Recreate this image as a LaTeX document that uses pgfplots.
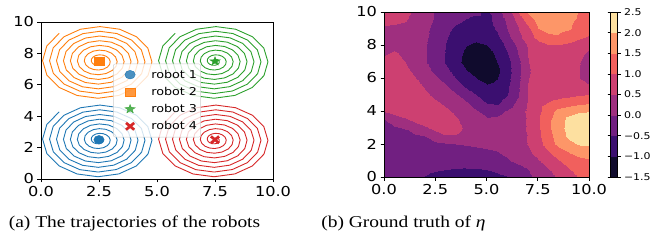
\documentclass[border=0pt]{standalone}
\usepackage{pgfplots}
\pgfplotsset{compat=1.18}
\usepackage{pgfplotstable}
\usepackage{fontspec}
\setmainfont{Liberation Serif}[FakeStretch=1.18]
\newfontfamily\dvs{DejaVu Sans}[FakeStretch=1.18]
\newcommand\tfont{\dvs\fontsize{13.7bp}{15bp}\selectfont}
\newcommand\lfont{\dvs\fontsize{10.8bp}{12bp}\selectfont}
\newcommand\cfont{\dvs\fontsize{9.3bp}{11bp}\selectfont}
\newcommand\capfont{\fontsize{16.5bp}{18bp}\selectfont}
\definecolor{tabblue}{RGB}{31,119,180}
\definecolor{taborange}{RGB}{255,127,14}
\definecolor{tabgreen}{RGB}{44,160,44}
\definecolor{tabred}{RGB}{214,39,40}
\pgfdeclareplotmark{fstar}{%
  \pgfpathmoveto{\pgfpointpolar{90}{\pgfplotmarksize}}%
  \pgfpathlineto{\pgfpointpolar{126}{0.4\pgfplotmarksize}}%
  \pgfpathlineto{\pgfpointpolar{162}{\pgfplotmarksize}}%
  \pgfpathlineto{\pgfpointpolar{198}{0.4\pgfplotmarksize}}%
  \pgfpathlineto{\pgfpointpolar{234}{\pgfplotmarksize}}%
  \pgfpathlineto{\pgfpointpolar{270}{0.4\pgfplotmarksize}}%
  \pgfpathlineto{\pgfpointpolar{306}{\pgfplotmarksize}}%
  \pgfpathlineto{\pgfpointpolar{342}{0.4\pgfplotmarksize}}%
  \pgfpathlineto{\pgfpointpolar{18}{\pgfplotmarksize}}%
  \pgfpathlineto{\pgfpointpolar{54}{0.4\pgfplotmarksize}}%
  \pgfpathclose\pgfusepathqfillstroke}
\pgfplotstableread{
x y
-1.716 1.777
-2.248 0.977
-2.432 0.043
-2.246 -0.885
-1.723 -1.664
-0.947 -2.179
-0.041 -2.357
0.857 -2.176
1.612 -1.669
2.110 -0.917
2.282 -0.040
2.106 0.830
1.615 1.560
0.888 2.041
0.039 2.208
-0.802 2.037
-1.508 1.561
-1.973 0.858
-2.132 0.037
-1.967 -0.775
-1.507 -1.455
-0.828 -1.904
-0.036 -2.057
0.747 -1.897
1.403 -1.453
1.835 -0.798
1.982 -0.035
1.827 0.720
1.399 1.351
0.768 1.766
0.033 1.908
-0.692 1.758
-1.299 1.345
-1.698 0.738
-1.832 0.032
-1.688 -0.665
-1.291 -1.247
-0.708 -1.629
-0.031 -1.757
0.637 -1.618
1.195 -1.237
1.560 -0.678
1.682 -0.029
1.548 0.610
1.183 1.143
0.648 1.491
0.028 1.608
-0.582 1.478
-1.091 1.129
-1.422 0.618
-1.533 0.027
-1.409 -0.555
-1.075 -1.039
-0.588 -1.354
-0.026 -1.457
0.527 -1.339
0.986 -1.021
1.285 -0.559
1.382 -0.024
1.269 0.500
0.967 0.934
0.529 1.216
0.023 1.308
-0.472 1.199
-0.882 0.914
-1.147 0.499
-1.233 0.022
-1.129 -0.445
-0.860 -0.830
-0.469 -1.079
-0.020 -1.157
0.417 -1.060
0.778 -0.806
1.010 -0.439
1.083 -0.019
0.990 0.390
0.752 0.726
0.409 0.941
0.018 1.008
-0.362 0.920
-0.674 0.698
-0.872 0.379
-0.933 0.016
-0.850 -0.335
-0.644 -0.622
-0.349 -0.804
-0.015 -0.857
0.307 -0.781
0.570 -0.590
0.735 -0.319
0.783 -0.014
0.711 0.280
0.536 0.518
0.289 0.666
0.012 0.708
-0.253 0.641
-0.465 0.482
-0.597 0.260
-0.633 0.011
-0.571 -0.225
-0.428 -0.413
-0.230 -0.528
-0.010 -0.558
0.198 -0.501
0.361 -0.374
0.459 -0.200
0.483 -0.008
0.432 0.170
0.320 0.309
0.170 0.391
0.007 0.408
-0.143 0.362
-0.257 0.266
-0.322 0.140
-0.333 0.006
-0.292 -0.115
-0.212 -0.205
-0.110 -0.253
-0.005 -0.258
0.088 -0.222
0.153 -0.158
0.184 -0.080
0.183 -0.003
0.153 0.060
0.104 0.101
0.050 0.116
0.002 0.108
-0.033 0.083
-0.049 0.050
}\spiral
\pgfplotsset{myax/.style={scale only axis, anchor=south west,
  xmin=0, xmax=10, ymin=0, ymax=10,
  tick align=outside, tick pos=left, major tick length=3.5bp,
  tick style={black, line width=0.6bp}, axis line style={line width=0.6bp},
  ticklabel style={font=\tfont},
  xtick={0,2.5,5,7.5,10}, xticklabels={0.0,2.5,5.0,7.5,10.0},
  ytick={0,2,4,6,8,10}, yticklabels={0,2,4,6,8,10}}}
\begin{document}
\begin{tikzpicture}
\path[use as bounding box] (0,0) rectangle (656bp,251bp);
\begin{axis}[myax, at={(41bp,72bp)}, width=232bp, height=157bp,
  legend style={at={(0.5,0.5)}, anchor=center, draw=black!20, fill=white,
    fill opacity=0.8, text opacity=1, draw opacity=1, rounded corners=2bp,
    font=\lfont, inner xsep=2bp, inner ysep=4.5bp, row sep=4.5bp,
    nodes={inner sep=1.5bp}},
  legend cell align=left,
  legend image code/.code={\path (0bp,0bp) (34bp,0bp); \draw[#1] plot coordinates {(14.5bp,0bp)};}]
\addplot[tabblue, line width=0.9bp, forget plot] table[x expr=\thisrow{x}+2.5, y expr=\thisrow{y}+2.5] {\spiral};
\addplot[taborange, line width=0.9bp, forget plot] table[x expr=\thisrow{x}+2.5, y expr=\thisrow{y}+7.5] {\spiral};
\addplot[tabgreen, line width=0.9bp, forget plot] table[x expr=\thisrow{x}+7.5, y expr=\thisrow{y}+7.5] {\spiral};
\addplot[tabred, line width=0.9bp, forget plot] table[x expr=\thisrow{x}+7.5, y expr=\thisrow{y}+2.5] {\spiral};
\addplot[only marks, mark=*, mark size=4.3bp, mark options={xscale=1.2, draw=tabblue, fill=tabblue}] coordinates {(2.5,2.5)};
\addlegendentry{robot 1}
\addplot[only marks, mark=square*, mark size=4.1bp, mark options={xscale=1.2, draw=taborange, fill=taborange}] coordinates {(2.5,7.5)};
\addlegendentry{robot 2}
\addplot[only marks, mark=fstar, mark size=4.6bp, mark options={xscale=1.2, draw=tabgreen, fill=tabgreen, line width=0.3bp}] coordinates {(7.5,7.5)};
\addlegendentry{robot 3}
\addplot[only marks, mark=x, mark size=4.8bp, mark options={xscale=1.2, draw=tabred, line width=2.7bp}] coordinates {(7.5,2.5)};
\addlegendentry{robot 4}
\end{axis}
\begin{axis}[myax, at={(384bp,74bp)}, width=205bp, height=165bp, view={0}{90},
  colormap={eta}{rgb255=(16,11,45) rgb255=(59,15,112) rgb255=(113,31,129) rgb255=(159,47,127) rgb255=(205,64,113) rgb255=(241,96,93) rgb255=(253,150,104) rgb255=(253,224,160)},
  colormap access=piecewise constant,
  point meta min=-1.5, point meta max=2.5,
  colorbar,
  colorbar style={at={(parent axis.north east)}, anchor=north west, xshift=13bp,
    scale only axis, width=7bp, height=165bp,
    ytick={-1.5,-1,-0.5,0,0.5,1,1.5,2,2.5},
    yticklabels={−1.5,−1.0,−0.5,0.0,0.5,1.0,1.5,2.0,2.5},
    yticklabel style={font=\cfont},
    tick align=outside, major tick length=3bp,
    tick style={black, line width=0.5bp}, axis line style={line width=0.5bp}}]
\addplot3[surf, shader=interp, mesh/rows=21, mesh/cols=21] coordinates {
(0,0,-0.28) (0.5,0,-0.33) (1,0,-0.40) (1.5,0,-0.46) (2,0,-0.51) (2.5,0,-0.56) (3,0,-0.60) (3.5,0,-0.62) (4,0,-0.63) (4.5,0,-0.62) (5,0,-0.60) (5.5,0,-0.56) (6,0,-0.51) (6.5,0,-0.30) (7,0,-0.08) (7.5,0,0.12) (8,0,0.35) (8.5,0,0.55) (9,0,0.80) (9.5,0,1.03) (10,0,1.20)
(0,0.5,-0.30) (0.5,0.5,-0.33) (1,0.5,-0.36) (1.5,0.5,-0.40) (2,0.5,-0.44) (2.5,0.5,-0.47) (3,0.5,-0.49) (3.5,0.5,-0.51) (4,0.5,-0.52) (4.5,0.5,-0.51) (5,0.5,-0.49) (5.5,0.5,-0.44) (6,0.5,-0.33) (6.5,0.5,-0.17) (7,0.5,0.00) (7.5,0.5,0.22) (8,0.5,0.48) (8.5,0.5,0.75) (9,0.5,0.98) (9.5,0.5,1.18) (10,0.5,1.30)
(0,1,-0.33) (0.5,1,-0.35) (1,1,-0.36) (1.5,1,-0.38) (2,1,-0.40) (2.5,1,-0.40) (3,1,-0.40) (3.5,1,-0.38) (4,1,-0.35) (4.5,1,-0.32) (5,1,-0.25) (5.5,1,-0.15) (6,1,-0.05) (6.5,1,0.08) (7,1,0.25) (7.5,1,0.45) (8,1,0.70) (8.5,1,0.95) (9,1,1.18) (9.5,1,1.35) (10,1,1.42)
(0,1.5,-0.35) (0.5,1.5,-0.33) (1,1.5,-0.30) (1.5,1.5,-0.28) (2,1.5,-0.25) (2.5,1.5,-0.22) (3,1.5,-0.18) (3.5,1.5,-0.14) (4,1.5,-0.10) (4.5,1.5,-0.07) (5,1.5,-0.04) (5.5,1.5,-0.01) (6,1.5,0.08) (6.5,1.5,0.22) (7,1.5,0.42) (7.5,1.5,0.68) (8,1.5,0.95) (8.5,1.5,1.25) (9,1.5,1.52) (9.5,1.5,1.68) (10,1.5,1.72)
(0,2,-0.30) (0.5,2,-0.28) (1,2,-0.25) (1.5,2,-0.20) (2,2,-0.15) (2.5,2,-0.10) (3,2,-0.03) (3.5,2,0.00) (4,2,0.02) (4.5,2,0.04) (5,2,0.06) (5.5,2,0.10) (6,2,0.18) (6.5,2,0.33) (7,2,0.52) (7.5,2,0.85) (8,2,1.22) (8.5,2,1.62) (9,2,1.88) (9.5,2,2.04) (10,2,2.06)
(0,2.5,-0.22) (0.5,2.5,-0.17) (1,2.5,-0.12) (1.5,2.5,-0.06) (2,2.5,0.00) (2.5,2.5,0.25) (3,2.5,0.47) (3.5,2.5,0.47) (4,2.5,0.35) (4.5,2.5,0.28) (5,2.5,0.24) (5.5,2.5,0.22) (6,2.5,0.25) (6.5,2.5,0.33) (7,2.5,0.52) (7.5,2.5,0.88) (8,2.5,1.32) (8.5,2.5,1.75) (9,2.5,2.10) (9.5,2.5,2.30) (10,2.5,2.32)
(0,3,-0.12) (0.5,3,-0.05) (1,3,0.02) (1.5,3,0.22) (2,3,0.42) (2.5,3,0.62) (3,3,0.70) (3.5,3,0.62) (4,3,0.42) (4.5,3,0.30) (5,3,0.22) (5.5,3,0.20) (6,3,0.25) (6.5,3,0.35) (7,3,0.55) (7.5,3,0.94) (8,3,1.38) (8.5,3,1.82) (9,3,2.15) (9.5,3,2.34) (10,3,2.36)
(0,3.5,0.00) (0.5,3.5,0.22) (1,3.5,0.45) (1.5,3.5,0.65) (2,3.5,0.78) (2.5,3.5,0.82) (3,3.5,0.72) (3.5,3.5,0.55) (4,3.5,0.35) (4.5,3.5,0.15) (5,3.5,0.04) (5.5,3.5,0.06) (6,3.5,0.18) (6.5,3.5,0.30) (7,3.5,0.55) (7.5,3.5,0.95) (8,3.5,1.38) (8.5,3.5,1.78) (9,3.5,2.12) (9.5,3.5,2.25) (10,3.5,2.27)
(0,4,0.52) (0.5,4,0.72) (1,4,0.85) (1.5,4,0.92) (2,4,0.90) (2.5,4,0.78) (3,4,0.60) (3.5,4,0.40) (4,4,0.20) (4.5,4,0.04) (5,4,-0.15) (5.5,4,-0.12) (6,4,0.04) (6.5,4,0.30) (7,4,0.58) (7.5,4,0.88) (8,4,1.25) (8.5,4,1.65) (9,4,1.82) (9.5,4,1.94) (10,4,1.97)
(0,4.5,0.50) (0.5,4.5,0.70) (1,4.5,0.85) (1.5,4.5,0.88) (2,4.5,0.78) (2.5,4.5,0.60) (3,4.5,0.40) (3.5,4.5,0.22) (4,4.5,0.06) (4.5,4.5,-0.20) (5,4.5,-0.52) (5.5,4.5,-0.58) (6,4.5,-0.30) (6.5,4.5,0.12) (7,4.5,0.55) (7.5,4.5,0.85) (8,4.5,1.02) (8.5,4.5,1.15) (9,4.5,1.28) (9.5,4.5,1.40) (10,4.5,1.45)
(0,5,0.54) (0.5,5,0.72) (1,5,0.82) (1.5,5,0.78) (2,5,0.60) (2.5,5,0.40) (3,5,0.22) (3.5,5,0.05) (4,5,-0.20) (4.5,5,-0.48) (5,5,-0.72) (5.5,5,-0.72) (6,5,-0.52) (6.5,5,-0.10) (7,5,0.55) (7.5,5,0.72) (8,5,0.80) (8.5,5,0.85) (9,5,0.90) (9.5,5,0.97) (10,5,1.02)
(0,5.5,0.72) (0.5,5.5,0.82) (1,5.5,0.80) (1.5,5.5,0.65) (2,5.5,0.45) (2.5,5.5,0.25) (3,5.5,0.04) (3.5,5.5,-0.25) (4,5.5,-0.58) (4.5,5.5,-0.82) (5,5.5,-0.95) (5.5,5.5,-0.88) (6,5.5,-0.58) (6.5,5.5,-0.15) (7,5.5,0.52) (7.5,5.5,0.70) (8,5.5,0.78) (8.5,5.5,0.80) (9,5.5,0.78) (9.5,5.5,0.68) (10,5.5,0.55)
(0,6,0.70) (0.5,6,0.78) (1,6,0.70) (1.5,6,0.52) (2,6,0.30) (2.5,6,0.08) (3,6,-0.20) (3.5,6,-0.52) (4,6,-0.78) (4.5,6,-1.00) (5,6,-1.15) (5.5,6,-1.02) (6,6,-0.65) (6.5,6,-0.18) (7,6,0.48) (7.5,6,0.68) (8,6,0.75) (8.5,6,0.76) (9,6,0.66) (9.5,6,0.50) (10,6,0.33)
(0,6.5,0.65) (0.5,6.5,0.70) (1,6.5,0.60) (1.5,6.5,0.38) (2,6.5,0.15) (2.5,6.5,-0.10) (3,6.5,-0.40) (3.5,6.5,-0.72) (4,6.5,-0.98) (4.5,6.5,-1.25) (5,6.5,-1.35) (5.5,6.5,-1.10) (6,6.5,-0.70) (6.5,6.5,-0.20) (7,6.5,0.45) (7.5,6.5,0.68) (8,6.5,0.76) (8.5,6.5,0.76) (9,6.5,0.66) (9.5,6.5,0.50) (10,6.5,0.35)
(0,7,0.58) (0.5,7,0.63) (1,7,0.50) (1.5,7,0.30) (2,7,0.04) (2.5,7,-0.26) (3,7,-0.55) (3.5,7,-0.85) (4,7,-1.15) (4.5,7,-1.35) (5,7,-1.30) (5.5,7,-1.00) (6,7,-0.65) (6.5,7,-0.20) (7,7,0.48) (7.5,7,0.72) (8,7,0.80) (8.5,7,0.80) (9,7,0.70) (9.5,7,0.52) (10,7,0.38)
(0,7.5,0.47) (0.5,7.5,0.53) (1,7.5,0.45) (1.5,7.5,0.30) (2,7.5,0.04) (2.5,7.5,-0.25) (3,7.5,-0.53) (3.5,7.5,-0.82) (4,7.5,-1.08) (4.5,7.5,-1.25) (5,7.5,-1.18) (5.5,7.5,-0.90) (6,7.5,-0.53) (6.5,7.5,-0.05) (7,7.5,0.52) (7.5,7.5,0.75) (8,7.5,0.85) (8.5,7.5,0.85) (9,7.5,0.75) (9.5,7.5,0.58) (10,7.5,0.45)
(0,8,0.35) (0.5,8,0.42) (1,8,0.42) (1.5,8,0.30) (2,8,0.05) (2.5,8,-0.25) (3,8,-0.52) (3.5,8,-0.80) (4,8,-0.98) (4.5,8,-1.05) (5,8,-1.00) (5.5,8,-0.75) (6,8,-0.38) (6.5,8,0.08) (7,8,0.55) (7.5,8,0.82) (8,8,0.98) (8.5,8,0.98) (9,8,0.88) (9.5,8,0.72) (10,8,0.55)
(0,8.5,0.38) (0.5,8.5,0.38) (1,8.5,0.36) (1.5,8.5,0.28) (2,8.5,0.08) (2.5,8.5,-0.15) (3,8.5,-0.45) (3.5,8.5,-0.72) (4,8.5,-0.88) (4.5,8.5,-0.92) (5,8.5,-0.85) (5.5,8.5,-0.60) (6,8.5,-0.15) (6.5,8.5,0.30) (7,8.5,0.80) (7.5,8.5,1.15) (8,8.5,1.42) (8.5,8.5,1.45) (9,8.5,1.30) (9.5,8.5,1.10) (10,8.5,0.95)
(0,9,0.45) (0.5,9,0.44) (1,9,0.40) (1.5,9,0.30) (2,9,0.10) (2.5,9,-0.10) (3,9,-0.35) (3.5,9,-0.58) (4,9,-0.72) (4.5,9,-0.80) (5,9,-0.72) (5.5,9,-0.42) (6,9,0.00) (6.5,9,0.42) (7,9,0.90) (7.5,9,1.50) (8,9,1.62) (8.5,9,1.62) (9,9,1.55) (9.5,9,1.30) (10,9,1.10)
(0,9.5,0.60) (0.5,9.5,0.58) (1,9.5,0.53) (1.5,9.5,0.38) (2,9.5,0.15) (2.5,9.5,-0.05) (3,9.5,-0.20) (3.5,9.5,-0.38) (4,9.5,-0.52) (4.5,9.5,-0.62) (5,9.5,-0.62) (5.5,9.5,-0.35) (6,9.5,0.10) (6.5,9.5,0.62) (7,9.5,1.25) (7.5,9.5,1.65) (8,9.5,1.72) (8.5,9.5,1.72) (9,9.5,1.60) (9.5,9.5,1.40) (10,9.5,1.25)
(0,10,0.70) (0.5,10,0.66) (1,10,0.58) (1.5,10,0.45) (2,10,0.20) (2.5,10,-0.02) (3,10,-0.15) (3.5,10,-0.27) (4,10,-0.36) (4.5,10,-0.42) (5,10,-0.60) (5.5,10,-0.15) (6,10,0.20) (6.5,10,0.95) (7,10,1.55) (7.5,10,1.75) (8,10,1.85) (8.5,10,1.85) (9,10,1.75) (9.5,10,1.45) (10,10,1.30)
};
\end{axis}
\node[anchor=base, font=\capfont, inner sep=0pt] at (134.5bp,24bp) {(a) The trajectories of the robots};
\node[anchor=base, font=\capfont, inner sep=0pt] at (403.5bp,24bp) {(b) Ground truth of \textit{η}};
\end{tikzpicture}
\end{document}
